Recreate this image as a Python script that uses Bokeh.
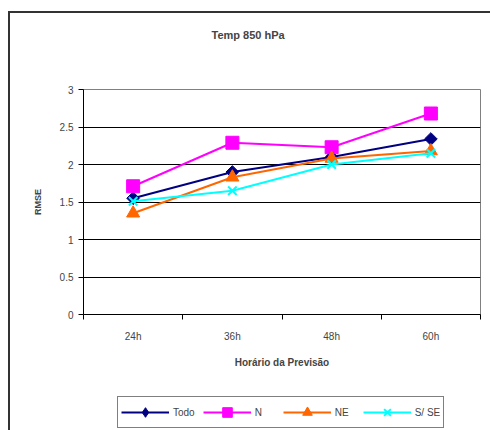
from bokeh.plotting import figure
from bokeh.layouts import column
from bokeh.models import FixedTicker, Legend, LegendItem, Range1d, Title
from bokeh.embed import file_html
from bokeh.resources import INLINE

hours = ["24h", "36h", "48h", "60h"]
todo = [1.55, 1.90, 2.10, 2.34]
n_vals = [1.71, 2.29, 2.23, 2.68]
ne_vals = [1.35, 1.83, 2.08, 2.18]
sse_vals = [1.51, 1.65, 2.00, 2.15]
y_ticks = [0, 0.5, 1, 1.5, 2, 2.5, 3]

xs = [i + 0.5 for i in range(len(hours))]
bounds = [i for i in range(len(hours) + 1)]

FONT = "Liberation Sans"

p = figure(width=480, height=357, output_backend="svg", toolbar_location=None,
           title=None,
           x_range=Range1d(0, len(hours)), y_range=Range1d(0, 3),
           min_border_left=73, min_border_right=10, min_border_top=76,
           min_border_bottom=55)

# spacer title (closest to frame) then real title
p.add_layout(Title(text=" ", text_font_size="1px", standoff=46), "above")
p.add_layout(Title(text="Temp 850 hPa", align="left", offset=128, standoff=0,
                   text_font=FONT, text_font_size="11px", text_font_style="bold"),
             "above")

p.outline_line_color = "#808080"
p.xgrid.grid_line_color = None
p.ygrid.grid_line_color = "#000000"
p.ygrid.ticker = FixedTicker(ticks=y_ticks)

xa = p.xaxis[0]
xa.ticker = FixedTicker(ticks=xs, minor_ticks=bounds)
xa.major_label_overrides = {x: h for x, h in zip(xs, hours)}
xa.major_tick_out = 0
xa.major_tick_in = 0
xa.minor_tick_out = 5
xa.minor_tick_in = 0
xa.major_label_standoff = 11
xa.axis_label = "Horário da Previsão"
xa.axis_label_standoff = 12
xa.axis_label_text_font = FONT
xa.axis_label_text_font_size = "10px"
xa.axis_label_text_font_style = "bold"
xa.major_label_text_font = FONT
xa.major_label_text_font_size = "10px"
xa.axis_line_color = "#000000"
xa.minor_tick_line_color = "#000000"

ya = p.yaxis[0]
ya.ticker = FixedTicker(ticks=y_ticks)
ya.major_tick_out = 5
ya.major_tick_in = 0
ya.minor_tick_out = 0
ya.minor_tick_in = 0
ya.major_label_standoff = 5
ya.axis_label = "RMSE"
ya.axis_label_standoff = 14
ya.axis_label_text_font = FONT
ya.axis_label_text_font_size = "9px"
ya.axis_label_text_font_style = "bold"
ya.major_label_text_font = FONT
ya.major_label_text_font_size = "10px"
ya.axis_line_color = "#000000"
ya.major_tick_line_color = "#000000"

series = [
    ("Todo", todo, "#000080", dict(marker="square", angle=0.785, size=9), "diamond"),
    ("N", n_vals, "#FF00FF", dict(marker="square", size=13), "square"),
    ("NE", ne_vals, "#FF6600", dict(marker="triangle", size=13), "triangle"),
    ("S/ SE", sse_vals, "#00FFFF", dict(marker="x", size=12, line_width=2), "x"),
]

for name, vals, col, mk, _ in series:
    p.line(xs, vals, line_color=col, line_width=2)
    p.scatter(xs, vals, fill_color=col, line_color=col, **mk)

# legend strip (separate figure, data kept out of view)
p2 = figure(width=480, height=60, output_backend="svg", toolbar_location=None,
            title=None, x_axis_location=None, y_axis_location=None,
            x_range=Range1d(0, 1), y_range=Range1d(100, 101),
            min_border_left=0, min_border_right=0, min_border_top=0,
            min_border_bottom=0)
p2.outline_line_color = None
p2.xgrid.grid_line_color = None
p2.ygrid.grid_line_color = None

items = []
for name, vals, col, mk, lm in series:
    ln = p2.line(xs, vals, line_color=col, line_width=2)
    lw = 2 if lm == "x" else 1
    sc = p2.scatter(xs, vals, marker=lm, size=10, fill_color=col, line_color=col,
                    line_width=lw)
    items.append(LegendItem(label=name, renderers=[ln, sc]))

legend = Legend(items=items, orientation="horizontal", location=(34, 2),
                margin=0, padding=3, spacing=8, glyph_width=48, glyph_height=24,
                label_height=16, label_standoff=4, label_text_font=FONT,
                label_text_font_size="10px",
                border_line_color="#000000", border_line_width=1,
                background_fill_color="#ffffff", background_fill_alpha=1.0)
p2.add_layout(legend, "center")

layout = column(p, p2, spacing=0)
layout.styles = {"border-left": "2px solid #333333", "border-top": "2px solid #333333",
                 "margin-top": "11px", "margin-left": "8px"}

open("out.html", "w").write(file_html(layout, INLINE))
